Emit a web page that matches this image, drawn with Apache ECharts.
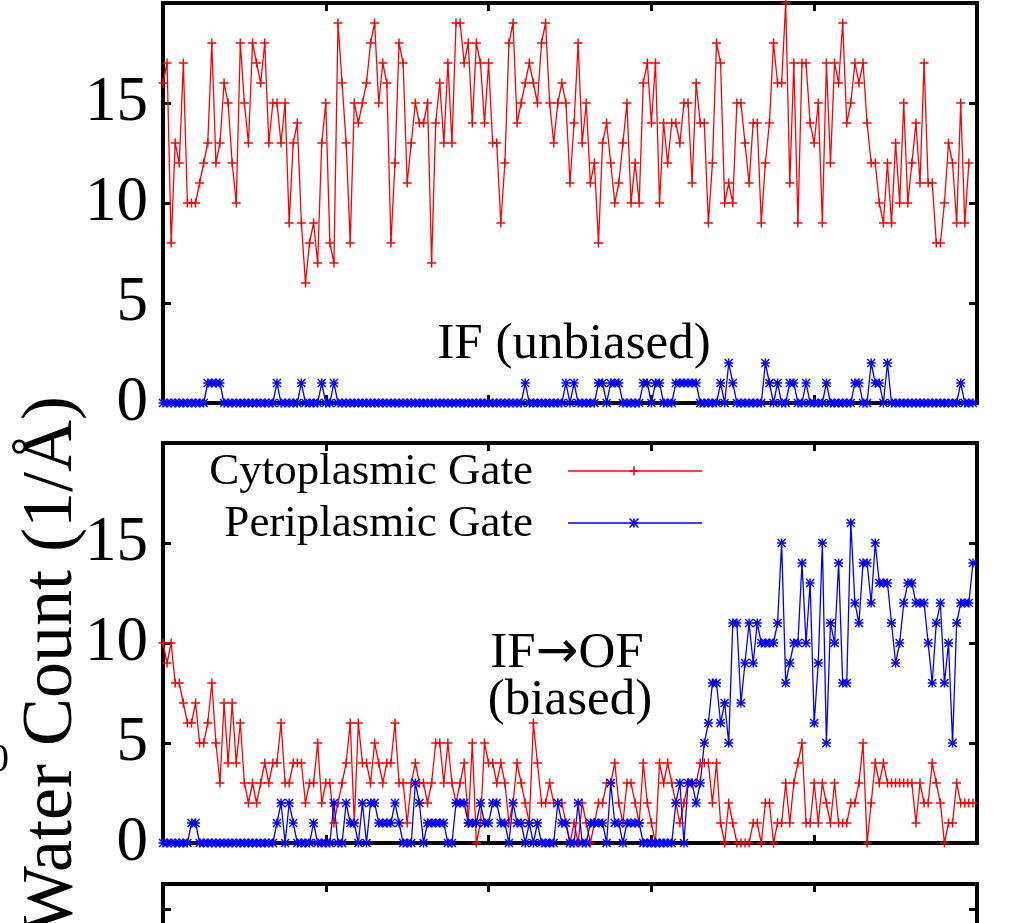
<!DOCTYPE html>
<html>
<head>
<meta charset="utf-8">
<script src="https://cdn.jsdelivr.net/npm/echarts@6/dist/echarts.min.js"></script>
<style>
  html, body { margin: 0; padding: 0; background: #fff; }
  #chart { width: 1012px; height: 923px; }
</style>
</head>
<body>
<div id="chart"></div>
<script>
// Water counts at the two gates, sampled every 0.25 (200 frames per run)
const ifCytoplasmic = [
  16,17,8,13,12,17,10,10,10,11, 12,13,18,12,13,16,15,12,10,18,
  15,13,18,17,16,18,13,15,15,13, 15,9,13,14,9,6,8,9,7,13,
  15,8,7,19,16,13,8,15,14,15, 16,18,19,15,17,16,8,12,18,17,
  11,13,15,14,14,15,7,14,16,13, 17,13,19,19,17,18,14,18,17,14,
  17,13,13,9,12,18,19,14,15,16, 17,16,15,18,19,15,13,15,16,15,
  11,14,18,13,15,11,12,8,13,14, 12,10,11,13,15,10,12,10,16,17,
  14,17,10,14,12,14,14,13,15,15, 11,16,14,14,9,12,18,17,10,11,
  10,15,15,13,11,14,14,9,12,14, 18,16,16,20,11,17,9,17,17,14,
  13,15,9,17,12,17,16,19,14,15, 17,16,17,14,12,12,10,9,12,9,
  13,10,15,10,12,14,11,17,11,11, 8,8,10,13,12,9,15,9,12
];
const ifPeriplasmic = [
  0,0,0,0,0,0,0,0,0,0, 0,1,1,1,1,0,0,0,0,0,
  0,0,0,0,0,0,0,0,1,0, 0,0,0,0,1,0,0,0,0,1,
  0,0,1,0,0,0,0,0,0,0, 0,0,0,0,0,0,0,0,0,0,
  0,0,0,0,0,0,0,0,0,0, 0,0,0,0,0,0,0,0,0,0,
  0,0,0,0,0,0,0,0,0,1, 0,0,0,0,0,0,0,0,0,1,
  0,1,0,0,0,0,0,1,1,0, 1,1,1,0,0,0,0,0,1,1,
  0,1,1,0,0,0,1,1,1,1, 1,1,0,0,0,0,0,1,0,2,
  1,0,0,0,0,0,0,0,2,1, 0,1,0,0,1,1,0,0,1,0,
  0,0,0,1,0,0,0,0,0,0, 1,1,0,0,2,1,1,0,2,0,
  0,0,0,0,0,0,0,0,0,0, 0,0,0,0,0,0,1,0,0,0
];
const ofCytoplasmic = [
  10,9,10,8,8,7,6,6,7,5, 5,6,8,5,3,7,4,7,4,6,
  3,2,3,2,3,4,3,4,4,6, 3,3,4,4,4,2,3,3,5,2,
  3,3,1,2,3,4,6,1,6,4, 4,3,5,4,3,4,4,6,3,3,
  1,3,4,3,3,2,3,5,5,3, 5,3,2,3,4,1,5,0,1,5,
  4,4,3,4,3,1,2,4,3,2, 1,6,4,2,2,3,2,2,2,1,
  0,1,0,2,1,0,1,2,2,3, 3,4,2,1,3,3,2,1,4,2,
  1,0,4,3,4,3,2,1,2,3, 3,3,4,4,4,2,4,1,0,2,
  1,0,0,0,0,1,1,0,2,2, 0,1,1,3,1,3,4,5,1,1,
  3,1,3,2,1,3,1,1,1,2, 2,3,5,0,2,4,3,4,3,3,
  3,3,3,3,3,1,3,2,2,4, 3,2,0,1,1,3,2,2,2,2
];
const ofPeriplasmic = [
  0,0,0,0,0,0,0,1,1,0, 0,0,0,0,0,0,0,0,0,0,
  0,0,0,0,0,0,0,0,1,2, 0,2,1,0,0,0,0,1,0,0,
  0,0,2,0,0,2,1,1,0,2, 0,2,2,1,1,1,1,2,1,0,
  0,0,3,2,0,1,1,1,1,1, 0,0,2,2,2,1,1,1,2,1,
  1,2,2,1,1,0,2,1,1,0, 1,0,1,0,0,0,0,2,1,1,
  0,0,2,0,0,1,1,1,1,0, 3,1,1,0,1,1,1,1,0,0,
  0,0,0,0,0,0,2,3,0,3, 3,2,3,5,6,8,8,6,7,5,
  11,11,7,9,11,9,11,10,10,10, 10,11,15,8,9,10,10,14,10,13,
  6,9,15,5,11,10,14,8,8,16, 12,11,14,14,12,15,13,13,13,11,
  9,10,12,13,13,12,12,12,10,8, 11,12,8,10,5,11,12,12,12,14
];
const seriesNames = ['Cytoplasmic Gate', 'Periplasmic Gate'];
const panelTitles = ['IF (unbiased)', '{t|IF}{ar|\u2192}{t|OF}', '(biased)'];
const yTicks = [0, 5, 10, 15, 20];
const frameStep = 0.25;

const SERIF = '"Liberation Serif", "DejaVu Serif", serif';
const RED = '#ff0000';
const BLUE = '#0000ff';
// gnuplot-style point glyphs: "+" for the cytoplasmic gate, "*" for the periplasmic gate
const PLUS = 'path://M0,4.2H10V5.8H0Z M4.2,0H5.8V10H4.2Z';
const STAR = 'path://M0,4.2H10V5.8H0Z M4.2,0H5.8V10H4.2Z M0,1.1L1.1,0L10,8.9L8.9,10Z M1.1,10L0,8.9L8.9,0L10,1.1Z';

const pairs = arr => arr.map((v, i) => [i * frameStep, v]);

const grids = [
  { left: 163, right: 35, top: 3, height: 400 },
  { left: 163, right: 35, top: 443, height: 400 },
  { left: 163, right: 35, top: 884, height: 400 }
].map(g => Object.assign(g, { show: true, borderColor: '#000', borderWidth: 4, containLabel: false }));

const tick = { inside: true, length: 8, lineStyle: { color: '#000', width: 3 } };
const xAxes = [], yAxes = [];
grids.forEach((g, i) => {
  ['bottom', 'top'].forEach(pos => xAxes.push({
    gridIndex: i, type: 'value', position: pos, min: 0, max: 50, interval: 10,
    axisLine: { show: false, onZero: false }, axisTick: tick,
    axisLabel: { show: false }, splitLine: { show: false }
  }));
  ['left', 'right'].forEach(pos => yAxes.push({
    gridIndex: i, type: 'value', position: pos,
    min: yTicks[0], max: yTicks[yTicks.length - 1], interval: yTicks[1] - yTicks[0],
    axisLine: { show: false, onZero: false }, axisTick: tick, splitLine: { show: false },
    axisLabel: {
      show: pos === 'left' && i < 2, fontSize: 63, fontFamily: SERIF, color: '#000',
      margin: 15, showMaxLabel: false
    }
  }));
});

function lineSeries(name, data, color, symbol, panel) {
  return {
    name, type: 'line', data: pairs(data),
    xAxisIndex: panel * 2, yAxisIndex: panel * 2,
    symbol, symbolSize: 9, showSymbol: true, showAllSymbol: true,
    lineStyle: { color, width: 1.3 }, itemStyle: { color },
    emphasis: { disabled: true }, animation: false, clip: true
  };
}

const txt = (text, x, y, size, align, extra) => Object.assign({
  type: 'text', x, y,
  style: {
    text, fontSize: size, fontFamily: SERIF, fill: '#000',
    align, verticalAlign: 'middle', textAlign: align, textVerticalAlign: 'middle'
  }
}, extra || {});

const seg = (x1, y1, x2, y2, color, w) => ({
  type: 'line', shape: { x1, y1, x2, y2 }, style: { stroke: color, lineWidth: w }
});
// legend sample: line with a point glyph in its middle
function legendSample(y, color, star) {
  const cx = 634, r = 4.5;
  const parts = [
    seg(568, y, 702, y, color, 1.3),
    seg(cx - r, y, cx + r, y, color, 1.6),
    seg(cx, y - r, cx, y + r, color, 1.6)
  ];
  if (star) {
    parts.push(seg(cx - r, y - r, cx + r, y + r, color, 1.6));
    parts.push(seg(cx - r, y + r, cx + r, y - r, color, 1.6));
  }
  return parts;
}

const arrowTitle = txt(panelTitles[1], 567, 654, 51, 'center');
arrowTitle.style.rich = {
  t: { fontSize: 51, fontFamily: SERIF, fill: '#000' },
  ar: { fontSize: 51, fontFamily: '"DejaVu Sans", sans-serif', fill: '#000' }
};

const option = {
  backgroundColor: '#fff',
  animation: false,
  grid: grids,
  xAxis: xAxes,
  yAxis: yAxes,
  series: [
    lineSeries(seriesNames[0], ifCytoplasmic, RED, PLUS, 0),
    lineSeries(seriesNames[1], ifPeriplasmic, BLUE, STAR, 0),
    lineSeries(seriesNames[0], ofCytoplasmic, RED, PLUS, 1),
    lineSeries(seriesNames[1], ofPeriplasmic, BLUE, STAR, 1)
  ],
  graphic: [
    txt('Water Count (1/\u00c5)', 52, 396, 72, 'right', { rotation: Math.PI / 2 }),
    txt('0', 9, 760, 40, 'right'),
    txt(panelTitles[0], 574, 345, 51, 'center'),
    arrowTitle,
    txt(panelTitles[2], 570, 701, 51, 'center'),
    txt(seriesNames[0], 533, 472, 45, 'right'),
    txt(seriesNames[1], 533, 524, 45, 'right')
  ].concat(legendSample(471, RED, false), legendSample(523, BLUE, true))
};

const chart = echarts.init(document.getElementById('chart'), null, { renderer: 'canvas' });
chart.setOption(option);
</script>
</body>
</html>
